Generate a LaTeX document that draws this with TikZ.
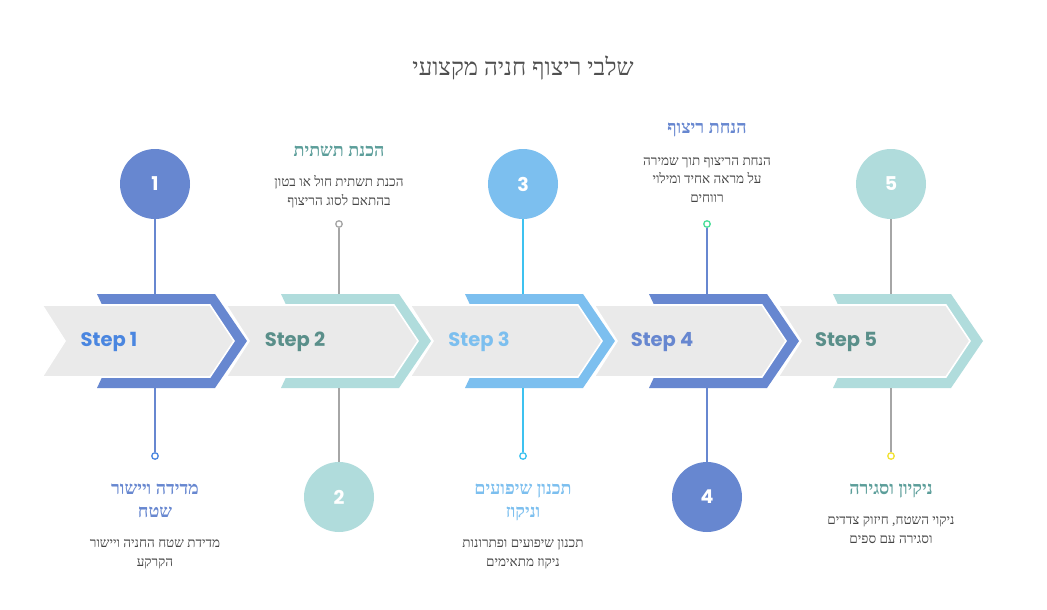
\documentclass[tikz,border=0pt]{standalone}
\usepackage{fontspec}
\setmainfont{Liberation Serif}
\newfontfamily\hebfont[Script=Hebrew]{Liberation Serif}
\newfontfamily\stepfont{Poppins}
\TeXXeTstate=1
\newcommand{\heb}[1]{{\hebfont\beginR #1\endR}}
\definecolor{cblue}{HTML}{6787D0}
\definecolor{cteal}{HTML}{B0DCDC}
\definecolor{clight}{HTML}{7CBFEF}
\definecolor{cgrey}{HTML}{EAEAEA}
\definecolor{tstepone}{HTML}{4A86E0}
\definecolor{tteal}{HTML}{5A8F8A}
\definecolor{ttitleteal}{HTML}{5C9E9A}
\definecolor{cline}{HTML}{A6A6A6}
\definecolor{ccyan}{HTML}{3EC2F0}
\definecolor{cgreen}{HTML}{4ADE9A}
\definecolor{cyellow}{HTML}{F2E234}
\definecolor{ctext}{HTML}{444444}
\definecolor{cmain}{HTML}{505050}
\newcommand{\stepframe}[2]{%
  \fill[#2] (#1,294) -- ({#1+118},294) -- ({#1+150},341) -- ({#1+118},388) -- (#1,388) -- ({#1+22},341) -- cycle;
  \filldraw[fill=cgrey, draw=white, line width=1.6pt] ({#1-55},305) -- ({#1+113},305) -- ({#1+137},341) -- ({#1+113},377) -- ({#1-55},377) -- ({#1-32},341) -- cycle;
}
\tikzset{
  numcirc/.style={circle, minimum size=70pt, inner sep=0pt, text=white, font=\stepfont\bfseries\fontsize{19}{21}\selectfont},
  dotnode/.style={circle, draw=#1, fill=white, line width=1.3pt, minimum size=6.5pt, inner sep=0pt},
  steplabel/.style={font=\stepfont\bfseries\fontsize{19.5}{22}\selectfont, inner sep=0pt},
  ttl/.style={align=center, font=\bfseries\fontsize{18}{23}\selectfont, inner sep=0pt},
  desc/.style={align=center, text=ctext, font=\fontsize{13.5}{18.5}\selectfont, inner sep=0pt},
  conn/.style={line width=1.6pt}
}
\begin{document}
\begin{tikzpicture}[x=1pt,y=-1pt]
\useasboundingbox[fill=white] (0,0) rectangle (1047,610);
\node[font=\fontsize{24}{26}\selectfont, text=cmain, inner sep=0pt, anchor=base] (title) at (523,76) {\heb{שלבי ריצוף חניה מקצועי}};
% frames (left to right)
\stepframe{97}{cblue}
\stepframe{281}{cteal}
\stepframe{465}{clight}
\stepframe{649}{cblue}
\stepframe{833}{cteal}
\node[steplabel, text=tstepone] (s1) at (109,342) {Step 1};
\node[steplabel, text=tteal] (s2) at (295,342) {Step 2};
\node[steplabel, text=clight] (s3) at (479,342) {Step 3};
\node[steplabel, text=cblue] (s4) at (662,342) {Step 4};
\node[steplabel, text=tteal] (s5) at (846,342) {Step 5};
% frame attach points
\coordinate (t1) at (155,294); \coordinate (b1) at (155,388);
\coordinate (t2) at (339,294); \coordinate (b2) at (339,388);
\coordinate (t3) at (523,294); \coordinate (b3) at (523,388);
\coordinate (t4) at (707,294); \coordinate (b4) at (707,388);
\coordinate (t5) at (891,294); \coordinate (b5) at (891,388);
% circles
\node[numcirc, fill=cblue] (c1) at (155,184) {1};
\node[numcirc, fill=cteal] (c2) at (339,497) {2};
\node[numcirc, fill=clight] (c3) at (523,184) {3};
\node[numcirc, fill=cblue] (c4) at (707,497) {4};
\node[numcirc, fill=cteal] (c5) at (891,184) {5};
% dots
\node[dotnode=tstepone] (d1) at (155,456) {};
\node[dotnode=cline] (d2) at (339,224) {};
\node[dotnode=ccyan] (d3) at (523,456) {};
\node[dotnode=cgreen] (d4) at (707,224) {};
\node[dotnode=cyellow] (d5) at (891,456) {};
% connectors
\draw[conn, cblue] (c1.south) -- (t1);
\draw[conn, cblue] (b1) -- (d1.north);
\draw[conn, cline] (d2.south) -- (t2);
\draw[conn, cline] (b2) -- (c2.north);
\draw[conn, ccyan] (c3.south) -- (t3);
\draw[conn, ccyan] (b3) -- (d3.north);
\draw[conn, cblue] (d4.south) -- (t4);
\draw[conn, cblue] (b4) -- (c4.north);
\draw[conn, cline] (c5.south) -- (t5);
\draw[conn, cline] (b5) -- (d5.north);
% texts (base anchor = baseline of last line)
\node[ttl, text=cblue, anchor=base] (h1) at (155,517) {\heb{מדידה ויישור}\\\heb{שטח}};
\node[desc, anchor=base] (p1) at (155,566) {\heb{מדידת שטח החניה ויישור}\\\heb{הקרקע}};
\node[ttl, text=ttitleteal, anchor=base] (h2) at (339,156) {\heb{הכנת תשתית}};
\node[desc, anchor=base] (p2) at (339,205) {\heb{הכנת תשתית חול או בטון}\\\heb{בהתאם לסוג הריצוף}};
\node[ttl, text=clight, anchor=base] (h3) at (523,517) {\heb{תכנון שיפועים}\\\heb{וניקוז}};
\node[desc, anchor=base] (p3) at (523,566) {\heb{תכנון שיפועים ופתרונות}\\\heb{ניקוז מתאימים}};
\node[ttl, text=cblue, anchor=base] (h4) at (707,133) {\heb{הנחת ריצוף}};
\node[desc, anchor=base] (p4) at (707,202) {\heb{הנחת הריצוף תוך שמירה}\\\heb{על מראה אחיד ומילוי}\\\heb{רווחים}};
\node[ttl, text=ttitleteal, anchor=base] (h5) at (891,494) {\heb{ניקיון וסגירה}};
\node[desc, anchor=base] (p5) at (891,543) {\heb{ניקוי השטח, חיזוק צדדים}\\\heb{וסגירה עם ספים}};
\end{tikzpicture}
\end{document}
